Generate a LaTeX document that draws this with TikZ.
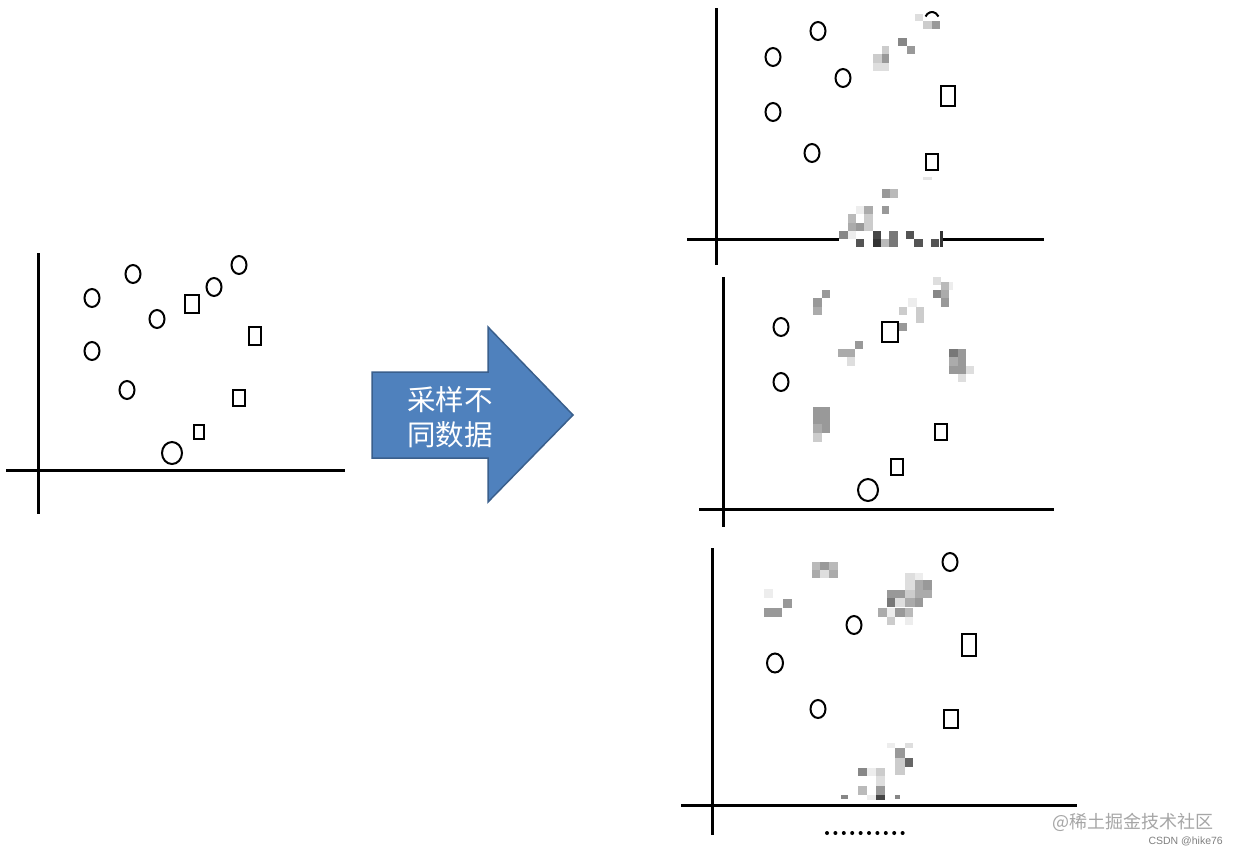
\documentclass[tikz,border=0pt]{standalone}
\usepackage{fontspec}
\newfontfamily\cjk{Noto Sans CJK SC}
\setmainfont{Liberation Sans}
\usetikzlibrary{shapes.geometric}
\definecolor{arrowfill}{HTML}{4F81BD}
\definecolor{arrowline}{HTML}{3A5F8C}
\tikzset{
  axis/.style={line width=3pt},
  circ/.style={draw, ellipse, line width=2pt, inner sep=0pt, minimum width=15pt, minimum height=18pt},
  sq/.style={draw, rectangle, line width=2pt, inner sep=0pt, minimum width=14pt, minimum height=18pt},
}
\newcommand{\mosaic}[1]{\foreach \xa/\ya/\xb/\yb/\g in {#1} {\fill[black!\g] (\xa,\ya) rectangle (\xb,\yb);}}
\begin{document}
\begin{tikzpicture}[x=1pt,y=-1pt]
\useasboundingbox[fill=white] (0,0) rectangle (1238,854);

% ---------- left panel ----------
\draw[axis] (38,253) -- (38,514);
\draw[axis] (6,470) -- (345,470);
\node[circ] (l1) at (92,298) {};
\node[circ] (l2) at (133,274) {};
\node[circ] (l3) at (157,319) {};
\node[circ] (l4) at (214,287) {};
\node[circ] (l5) at (239,265) {};
\node[circ] (l6) at (92,351) {};
\node[circ] (l7) at (127,390) {};
\node[circ, minimum width=20pt, minimum height=22pt] (l8) at (172,453) {};
\node[sq, minimum width=14pt, minimum height=18pt] (ls1) at (192,304) {};
\node[sq, minimum width=12pt, minimum height=18pt] (ls2) at (255,336) {};
\node[sq, minimum width=12pt, minimum height=16pt] (ls3) at (239,398) {};
\node[sq, minimum width=10pt, minimum height=14pt] (ls4) at (199,432) {};

% ---------- arrow ----------
\draw[fill=arrowfill, draw=arrowline, line width=1.5pt, line join=miter]
  (372,372) -- (488,372) -- (488,327) -- (573,415) -- (488,502) -- (488,458) -- (372,458) -- cycle;
\node[text=white, font=\cjk\fontsize{28.5}{35}\selectfont, align=center, inner sep=0pt] (lab) at (450,417) {采样不\\同数据};

% ---------- panel 1 ----------
\draw[axis] (716,8) -- (716,265);
\draw[axis] (687,239) -- (839,239);
\draw[axis] (942,239) -- (1044,239);
\node[circ] (a1) at (818,31) {};
\node[circ] (a2) at (773,57) {};
\node[circ] (a3) at (843,78) {};
\node[circ] (a4) at (773,112) {};
\node[circ] (a5) at (812,153) {};
\draw[line width=2pt] (932,21) ++(210:7.5 and 9) arc[start angle=210, end angle=330, x radius=7.5, y radius=9];
\node[sq, minimum width=14pt, minimum height=20pt] (as1) at (948,96) {};
\node[sq, minimum width=12pt, minimum height=16pt] (as2) at (932,162) {};
\begin{scope}[shift={(680,0)}, scale=1/3]
\mosaic{705/42/730/62/13, 730/62/755/87/20, 755/62/780/87/40, 655/113/680/138/47, 680/138/705/163/40,
605/138/628/163/20, 580/163/605/188/20, 605/163/628/188/40, 580/188/628/213/13,
605/568/630/593/40, 630/568/655/593/27, 605/618/628/643/40, 528/618/553/643/7, 553/618/578/643/33,
503/643/528/668/27, 553/643/578/668/20, 503/668/528/693/33, 528/668/553/693/40, 553/668/578/693/20,
478/693/503/718/47, 503/693/528/718/7, 578/693/603/718/73, 628/693/653/718/53, 678/693/703/718/67,
528/718/553/740/67, 578/718/603/740/80, 603/718/628/740/27, 628/718/653/740/53, 703/718/728/740/67,
753/718/778/740/67, 780/693/788/740/80, 730/530/755/540/10}
\end{scope}

% ---------- panel 2 ----------
\draw[axis] (723,277) -- (723,527);
\draw[axis] (699,509) -- (1054,509);
\node[circ] (b1) at (781,327) {};
\node[circ] (b2) at (781,382) {};
\node[circ, minimum width=20pt, minimum height=22pt] (b3) at (868,490) {};
\node[sq, minimum width=16pt, minimum height=20pt] (bs1) at (890,332) {};
\node[sq, minimum width=12pt, minimum height=16pt] (bs2) at (941,432) {};
\node[sq, minimum width=12pt, minimum height=16pt] (bs3) at (897,467) {};
\begin{scope}[shift={(690,270)}, scale=1/3]
\mosaic{395/60/420/85/40, 370/85/395/110/40, 370/110/395/135/33, 728/20/753/45/13, 753/35/778/60/27,
778/35/790/60/7, 728/60/753/85/47, 753/60/778/85/33, 753/85/778/110/40, 655/85/680/110/7,
628/110/650/135/20, 678/110/703/160/20, 628/160/650/182/40, 495/212/520/237/40, 445/237/495/262/33,
470/262/495/287/13, 778/237/803/262/53, 803/237/828/262/40, 778/262/803/287/33, 803/262/828/312/40,
778/287/803/312/40, 828/287/853/312/13, 803/312/828/337/13, 370/412/420/462/40, 370/462/395/490/33,
395/462/420/490/40, 370/490/395/515/20}
\end{scope}

% ---------- panel 3 ----------
\draw[axis] (712,548) -- (712,835);
\draw[axis] (681,805) -- (1077,805);
\node[circ] (c1) at (950,562) {};
\node[circ] (c2) at (854,625) {};
\node[circ, minimum width=16pt, minimum height=19pt] (c3) at (775,663) {};
\node[circ] (c4) at (818,709) {};
\node[sq, minimum width=14pt, minimum height=22pt] (cs1) at (969,645) {};
\node[sq, minimum width=14pt, minimum height=18pt] (cs2) at (951,719) {};
\begin{scope}[shift={(675,540)}, scale=1/3]
\mosaic{410/65/435/90/27, 435/65/462/90/40, 462/65/490/90/27, 410/90/435/115/33, 435/90/462/115/13,
462/90/490/115/33, 268/148/295/175/7, 325/178/350/203/40, 268/203/320/230/40,
690/100/720/125/13, 720/100/745/125/7, 745/120/770/150/40, 720/120/745/150/33, 690/125/720/150/13,
635/150/690/175/40, 690/150/720/175/20, 720/150/770/175/33, 635/175/660/200/53, 660/175/690/200/13,
690/175/720/200/33, 720/175/745/200/40, 610/205/635/230/33, 635/205/660/230/7, 660/205/690/230/40,
690/205/715/230/27, 635/230/660/255/20, 690/230/715/255/7,
635/610/660/625/7, 690/610/715/625/13, 660/625/690/655/40, 690/655/715/680/60, 660/655/690/705/20,
548/683/575/708/47, 575/683/603/708/7, 603/683/630/708/20, 603/708/630/738/13, 548/738/575/765/27,
603/738/630/765/40, 603/765/630/780/73, 575/765/603/780/7, 498/765/520/778/47, 660/765/675/778/47}
\end{scope}
\foreach \i in {0,...,9} {\fill (827+8.4*\i,833) circle[radius=2];}

% ---------- watermark ----------
\node[text=black!35, font=\cjk\fontsize{18}{20}\selectfont, anchor=west, inner sep=0pt] (wm1) at (1052,822) {@稀土掘金技术社区};
\node[text=black!50, font=\fontsize{10.5}{12}\selectfont, anchor=east, inner sep=0pt] (wm2) at (1223,841) {CSDN @hike76};
\end{tikzpicture}
\end{document}
